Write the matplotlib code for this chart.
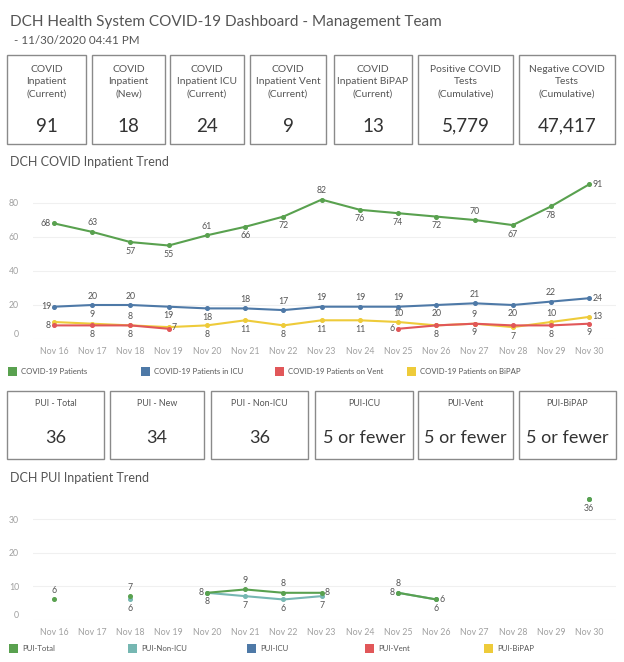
import numpy as np
import matplotlib
matplotlib.use("Agg")
import matplotlib.pyplot as plt
from matplotlib.patches import Rectangle

plt.rcParams['font.family'] = ['Lato', 'DejaVu Sans']

nan = np.nan

# ---------------- data ----------------
dates = ["Nov 16", "Nov 17", "Nov 18", "Nov 19", "Nov 20", "Nov 21", "Nov 22", "Nov 23",
         "Nov 24", "Nov 25", "Nov 26", "Nov 27", "Nov 28", "Nov 29", "Nov 30"]

covid_patients = [68, 63, 57, 55, 61, 66, 72, 82, 76, 74, 72, 70, 67, 78, 91]
covid_icu = [19, 20, 20, 19, 18, 18, 17, 19, 19, 19, 20, 21, 20, 22, 24]
covid_vent = [8, 8, 8, 6, nan, nan, nan, nan, nan, 6, 8, 9, 8, 8, 9]
covid_bipap = [10, 9, 8, 7, 8, 11, 8, 11, 11, 10, 8, 9, 7, 10, 13]

pui_total = [6, nan, 7, nan, 8, 9, 8, 8, nan, 8, 6, nan, nan, nan, 36]
pui_non_icu = [nan, nan, 6, nan, 8, 7, 6, 7, nan, 8, 6, nan, nan, nan, 36]
pui_icu = [nan] * 15
pui_vent = [nan] * 15
pui_bipap = [nan] * 15

kpi_titles = ["COVID\nInpatient\n(Current)", "COVID\nInpatient\n(New)", "COVID\nInpatient ICU\n(Current)",
              "COVID\nInpatient Vent\n(Current)", "COVID\nInpatient BiPAP\n(Current)",
              "Positive COVID\nTests\n(Cumulative)", "Negative COVID\nTests\n(Cumulative)"]
kpi_values = ["91", "18", "24", "9", "13", "5,779", "47,417"]

pui_titles = ["PUI - Total", "PUI - New", "PUI - Non-ICU", "PUI-ICU", "PUI-Vent", "PUI-BiPAP"]
pui_values = ["36", "34", "36", "5 or fewer", "5 or fewer", "5 or fewer"]

top_series = ["COVID-19 Patients", "COVID-19 Patients in ICU", "COVID-19 Patients on Vent",
              "COVID-19 Patients on BiPAP"]
pui_series = ["PUI-Total", "PUI-Non-ICU", "PUI-ICU", "PUI-Vent", "PUI-BiPAP"]

# ---------------- styles ----------------
GREEN = "#59a14f"
BLUE = "#4e79a7"
RED = "#e15759"
YELLOW = "#eecb3a"
TEAL = "#76b7b2"
TXT = "#555555"
NUM = "#333333"
TICK = "#a0a0a0"
BOX = "#8a8a8a"

# label placements (a=above, b=below, l=left, r=right, None=hidden)
lab_patients = ['l', 'a', 'b', 'b', 'a', 'b', 'b', 'a', 'b', 'b', 'b', 'a', 'b', 'b', 'r']
lab_icu = ['l', 'a', 'a', 'b', 'b', 'a', 'a', 'a', 'a', 'a', 'b', 'a', 'b', 'a', 'r']
lab_vent = ['l', 'b', 'b', None, None, None, None, None, None, 'l', 'b', 'b', None, 'b', 'b']
lab_bipap = [None, 'a', 'a', 'r', 'b', 'b', 'b', 'b', 'b', 'a', None, 'a', 'b', 'a', 'r']
lab_total = ['a', None, 'a', None, 'l', 'a', 'a', 'r', None, 'a', 'r', None, None, None, 'b']
lab_nonicu = [None, None, 'b', None, 'b', 'b', 'b', 'b', None, 'l', 'b', None, None, None, None]

W, H = 624, 662
fig = plt.figure(figsize=(W / 100, H / 100), dpi=100)
fig.patch.set_facecolor("white")


def px_axes(left, top, right, bottom):
    return fig.add_axes([left / W, 1 - bottom / H, (right - left) / W, (bottom - top) / H])


# overlay in pixel coordinates
ov = fig.add_axes([0, 0, 1, 1])
ov.set_xlim(0, W)
ov.set_ylim(H, 0)
ov.axis("off")
ov.set_zorder(-1)

ov.text(10, 22, "DCH Health System COVID-19 Dashboard - Management Team", fontsize=11.0,
        color=TXT, va="center", ha="left")
ov.text(14, 41, "- 11/30/2020 04:41 PM", fontsize=8.4, color=TXT, va="center", ha="left")

# KPI boxes
kpi_x = [(7, 86), (92, 165), (170, 244), (250, 326), (334, 412), (418, 513), (519, 615)]
for (x0, x1), t, v in zip(kpi_x, kpi_titles, kpi_values):
    ov.add_patch(Rectangle((x0, 55), x1 - x0, 89, fill=False, edgecolor=BOX, lw=1.0))
    ov.text((x0 + x1) / 2, 82, t, fontsize=7.4, color=TXT, ha="center", va="center",
            linespacing=1.43)
    ov.text((x0 + x1) / 2, 126, v, fontsize=13.5, color=NUM, ha="center", va="center")

# PUI boxes
pui_x = [(7, 104), (110, 204), (211, 308), (315, 413), (418, 513), (519, 616)]
for (x0, x1), t, v in zip(pui_x, pui_titles, pui_values):
    ov.add_patch(Rectangle((x0, 391), x1 - x0, 68, fill=False, edgecolor=BOX, lw=1.0))
    ov.text((x0 + x1) / 2, 404, t, fontsize=6.4, color=TXT, ha="center", va="center")
    ov.text((x0 + x1) / 2, 438, v, fontsize=13, color=NUM, ha="center", va="center")

ov.text(10, 162, "DCH COVID Inpatient Trend", fontsize=9.0, color=TXT, va="center")
ov.text(10, 478, "DCH PUI Inpatient Trend", fontsize=9.0, color=TXT, va="center")

# legends
for xx, name, col in zip([8, 141, 275, 407], top_series, [GREEN, BLUE, RED, YELLOW]):
    ov.add_patch(Rectangle((xx, 367), 9, 9, color=col, lw=0))
    ov.text(xx + 13, 371.5, name, fontsize=5.6, color=TXT, va="center")
for xx, name, col in zip([9, 128, 247, 365, 484], pui_series, [GREEN, TEAL, BLUE, RED, YELLOW]):
    ov.add_patch(Rectangle((xx, 644), 9, 9, color=col, lw=0))
    ov.text(xx + 13, 648.5, name, fontsize=5.6, color=TXT, va="center")

OFF = {'a': (0, 3.2, 'center', 'bottom'), 'b': (0, -3.2, 'center', 'top'),
       'l': (-2.2, 0, 'right', 'center'), 'r': (2.2, 0, 'left', 'center')}


def draw_series(ax, ys, color, labels):
    x = np.arange(len(dates))
    y = np.array(ys, dtype=float)
    ax.plot(x, y, color=color, lw=1.5, marker="o", ms=2.6, zorder=3,
            solid_capstyle="round")
    for xi, yi, lp in zip(x, y, labels):
        if lp is None or np.isnan(yi):
            continue
        dx, dy, ha, va = OFF[lp]
        ax.annotate(f"{int(yi)}", (xi, yi), xytext=(dx, dy), textcoords="offset points",
                    ha=ha, va=va, fontsize=6.3, color=TXT, zorder=5)


def style_axes(ax, ymax, yticks):
    ax.set_xlim(-0.55, 14.7)
    ax.set_ylim(0, ymax)
    ax.set_yticks(yticks)
    ax.set_xticks(np.arange(len(dates)))
    ax.set_xticklabels(dates)
    for s in ax.spines.values():
        s.set_visible(False)
    ax.tick_params(length=0, labelsize=6.3, colors=TICK, pad=3)
    ax.tick_params(axis="y", pad=10)
    ax.tick_params(axis="x", pad=6)
    ax.grid(axis="y", color="#f0f0f0", lw=0.8)
    ax.set_axisbelow(True)
    ax.set_facecolor("none")
    ax.get_yticklabels()[0].set_va("bottom")


ax1 = px_axes(33, 169, 616, 339)
style_axes(ax1, 100, [0, 20, 40, 60, 80])
draw_series(ax1, covid_patients, GREEN, lab_patients)
draw_series(ax1, covid_icu, BLUE, lab_icu)
draw_series(ax1, covid_bipap, YELLOW, lab_bipap)
draw_series(ax1, covid_vent, RED, lab_vent)

ax2 = px_axes(33, 486, 616, 619.5)
style_axes(ax2, 40, [0, 10, 20, 30])
none_labels = [None] * 15
draw_series(ax2, pui_bipap, YELLOW, none_labels)
draw_series(ax2, pui_vent, RED, none_labels)
draw_series(ax2, pui_icu, BLUE, none_labels)
draw_series(ax2, pui_non_icu, TEAL, lab_nonicu)
draw_series(ax2, pui_total, GREEN, lab_total)

fig.savefig("out.png", dpi=100, facecolor="white")
